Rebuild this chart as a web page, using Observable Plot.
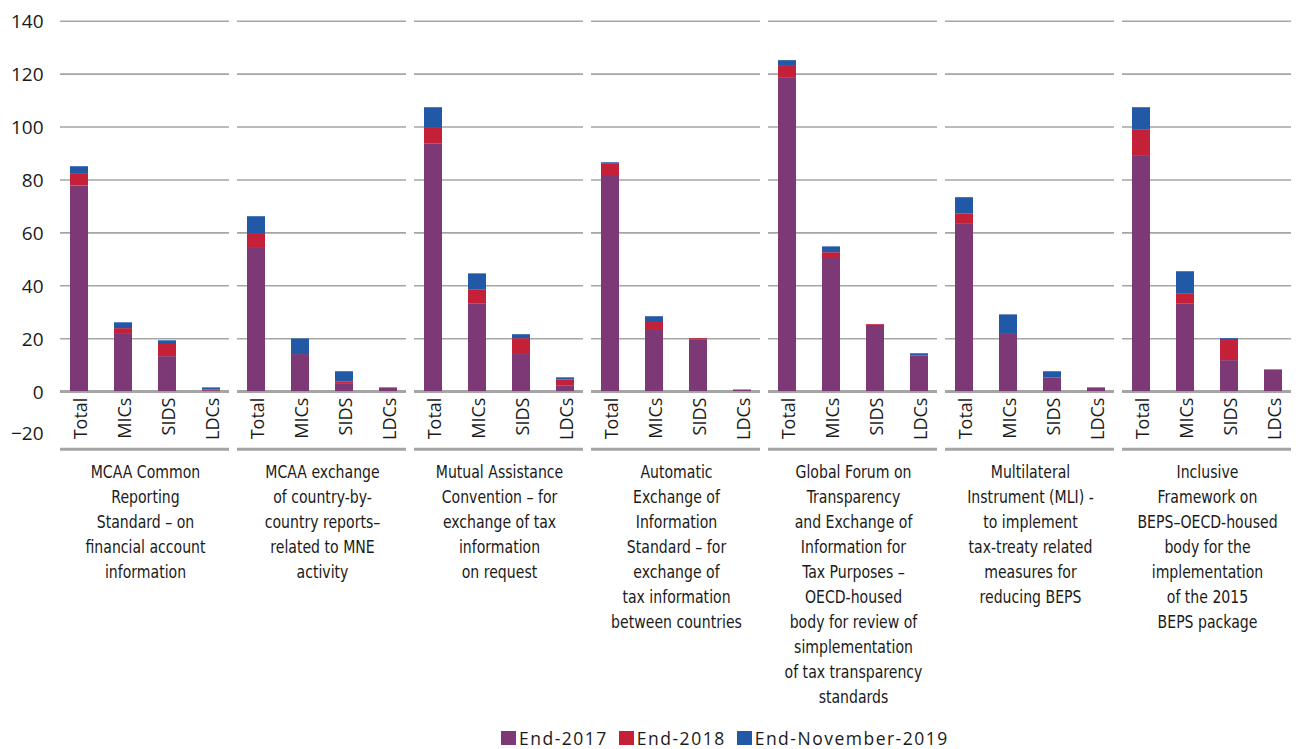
<!DOCTYPE html>
<html>
<head>
<meta charset="utf-8">
<script src="https://cdn.jsdelivr.net/npm/d3@7"></script>
<script src="https://cdn.jsdelivr.net/npm/@observablehq/plot@0.6"></script>
<style>
  html, body { margin: 0; padding: 0; background: #fff; }
  #wrap { position: relative; width: 1301px; height: 749px; }
  #legend { position: absolute; left: 501px; top: 729px; display: flex; align-items: center;
    font-family: "Open Sans", sans-serif; font-size: 17.5px; letter-spacing: 1.5px; color: #1a1a1a; line-height: 18px; white-space: nowrap; }
  #legend .sw { width: 15px; height: 14px; display: inline-block; margin-right: 3px; flex: none; }
  #legend .it { display: flex; align-items: center; margin-right: 11px; }
</style>
</head>
<body>
<div id="wrap">
  <div id="chart"></div>
  <div id="legend"></div>
</div>
<script>
// ---- data ----
const programs = [
  "MCAA Common\nReporting\nStandard – on\nfinancial account\ninformation",
  "MCAA exchange\nof country-by-\ncountry reports–\nrelated to MNE\nactivity",
  "Mutual Assistance\nConvention – for\nexchange of tax\ninformation\non request",
  "Automatic\nExchange of\nInformation\nStandard – for\nexchange of\ntax information\nbetween countries",
  "Global Forum on\nTransparency\nand Exchange of\nInformation for\nTax Purposes –\nOECD-housed\nbody for review of\nsimplementation\nof tax transparency\nstandards",
  "Multilateral\nInstrument (MLI) -\nto implement\ntax-treaty related\nmeasures for\nreducing BEPS",
  "Inclusive\nFramework on\nBEPS–OECD-housed\nbody for the\nimplementation\nof the 2015\nBEPS package"
];
const categories = ["Total", "MICs", "SIDS", "LDCs"];
const seriesNames = ["End-2017", "End-2018", "End-November-2019"];
const seriesColors = ["#7d3876", "#c42139", "#2259a6"];

// members at end-2017 (per program: Total, MICs, SIDS, LDCs)
const end2017 = [
  [77.7, 21.6, 13.2, 0.3],
  [54.1, 14.0, 3.0, 1.4],
  [93.5, 33.2, 14.0, 2.2],
  [81.3, 23.1, 19.4, 0.6],
  [118.4, 50.3, 24.6, 13.5],
  [63.2, 21.6, 5.2, 1.4],
  [88.9, 33.2, 11.7, 8.2]
];
// additional members during 2018
const end2018 = [
  [4.4, 2.2, 4.6, 0.3],
  [5.3, 0.0, 0.7, 0.0],
  [6.3, 5.3, 6.0, 2.2],
  [4.6, 3.0, 0.6, 0.0],
  [4.5, 2.2, 0.7, 0.0],
  [4.0, 0.0, 0.0, 0.0],
  [10.1, 3.8, 7.6, 0.0]
];
// additional members to end-November-2019
const end2019 = [
  [2.9, 2.2, 1.4, 0.8],
  [6.7, 5.9, 3.8, 0.0],
  [7.5, 6.0, 1.5, 0.8],
  [0.6, 2.2, 0.0, 0.0],
  [2.2, 2.2, 0.0, 0.8],
  [6.1, 7.4, 2.3, 0.0],
  [8.3, 8.3, 0.7, 0.0]
];
const yTicks = [-20, 0, 20, 40, 60, 80, 100, 120, 140];
const yTickLabels = ["−20", "0", "20", "40", "60", "80", "100", "120", "140"];

// ---- build tables ----
const seriesData = [end2017, end2018, end2019];
const rows = [];
programs.forEach((p, i) => {
  categories.forEach((c, j) => {
    seriesNames.forEach((s, k) => {
      rows.push({program: p, category: c, series: s, value: seriesData[k][i][j]});
    });
  });
});
const catRows = [];
programs.forEach(p => categories.forEach(c => catRows.push({program: p, category: c})));
const labelRows = programs.map(p => ({program: p}));
const tickRows = yTicks.map((v, i) => ({value: v, label: yTickLabels[i], program: programs[0]}));

const gridColor = "#a5a5a5";
const narrow = "'DejaVu Sans Condensed', 'Roboto', sans-serif";

const chart = Plot.plot({
  width: 1301,
  height: 728,
  marginLeft: 62,
  marginRight: 11.5,
  marginTop: 20.7,
  marginBottom: 284,
  style: {fontFamily: "'Open Sans', sans-serif", color: "#1a1a1a", background: "#fff"},
  fx: {domain: programs, paddingInner: 0.0745, paddingOuter: 0, axis: null, label: null},
  x: {domain: categories, paddingInner: 0.594, paddingOuter: 0.151, axis: null, label: null},
  y: {domain: [-20, 140], axis: null, label: null},
  color: {domain: seriesNames, range: seriesColors},
  marks: [
    Plot.ruleY(yTicks.filter(d => d > 0), {stroke: gridColor, strokeWidth: 1.6, insetLeft: -3, insetRight: -2}),
    Plot.ruleY([0], {stroke: gridColor, strokeWidth: 3, insetLeft: -3, insetRight: -2}),
    Plot.ruleY([-20], {stroke: gridColor, strokeWidth: 3, dy: 4.7, insetLeft: -3, insetRight: -2}),
    Plot.barY(rows, {fx: "program", x: "category", y: "value", fill: "series"}),
    Plot.text(catRows, {fx: "program", x: "category", y: () => 0, text: "category",
      rotate: -90, textAnchor: "end", dy: 6, dx: 2, fontSize: 18, fill: "#1a1a1a"}),
    Plot.text(labelRows, {fx: "program", text: "program", frameAnchor: "bottom",
      lineAnchor: "top", dy: 16, fontSize: 18.2, lineHeight: 1.37, fontFamily: narrow, fill: "#1a1a1a"}),
    Plot.text(tickRows, {fx: "program", y: "value", text: "label", frameAnchor: "left",
      textAnchor: "end", dx: -20, dy: 1, fontSize: 19, fill: "#1a1a1a"})
  ]
});
// -20 label sits a little above its line in the reference
d3.select(chart).selectAll("text").filter(function() { return this.textContent === "−20"; })
  .each(function() {
    const t = d3.select(this);
    const tr = t.attr("transform") || "";
    t.attr("transform", tr + " translate(0,-12)");
  });
// condense the multi-line facet labels to match the narrow face of the reference
d3.select(chart).selectAll("text").filter(function() { return this.querySelector("tspan") !== null; })
  .each(function() {
    const t = d3.select(this);
    const tr = t.attr("transform") || "";
    t.attr("transform", tr + " scale(0.86,1)");
  });
document.getElementById("chart").appendChild(chart);

// legend
const legend = document.getElementById("legend");
seriesNames.forEach((s, i) => {
  const it = document.createElement("span");
  it.className = "it";
  const sw = document.createElement("span");
  sw.className = "sw";
  sw.style.background = seriesColors[i];
  it.appendChild(sw);
  it.appendChild(document.createTextNode(s));
  legend.appendChild(it);
});
</script>
</body>
</html>
